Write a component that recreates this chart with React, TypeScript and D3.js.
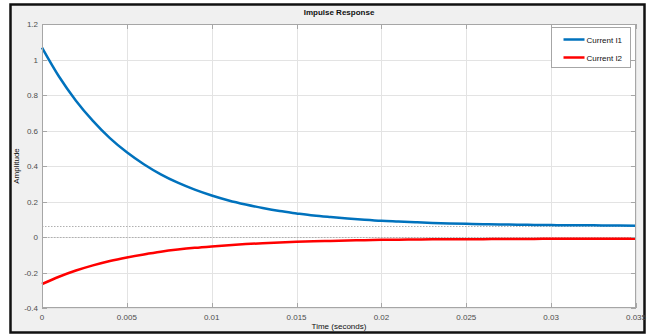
import { FC, useEffect, useRef } from "react";
import * as d3 from "d3";

// time samples (seconds), every 1 ms
const times: number[] = [
  0, 0.001, 0.002, 0.003, 0.004, 0.005, 0.006, 0.007, 0.008, 0.009,
  0.01, 0.011, 0.012, 0.013, 0.014, 0.015, 0.016, 0.017, 0.018, 0.019,
  0.02, 0.021, 0.022, 0.023, 0.024, 0.025, 0.026, 0.027, 0.028, 0.029,
  0.03, 0.031, 0.032, 0.033, 0.034, 0.035,
];

const currentI1: number[] = [
  1.067, 0.904, 0.768, 0.654, 0.557, 0.477, 0.41, 0.353, 0.306, 0.267,
  0.234, 0.206, 0.183, 0.163, 0.146, 0.133, 0.121, 0.112, 0.104, 0.097,
  0.091, 0.087, 0.083, 0.079, 0.076, 0.074, 0.072, 0.071, 0.069, 0.068,
  0.067, 0.066, 0.066, 0.065, 0.065, 0.064,
];

const currentI2: number[] = [
  -0.265, -0.224, -0.189, -0.16, -0.135, -0.115, -0.098, -0.083, -0.071, -0.061,
  -0.053, -0.046, -0.04, -0.035, -0.031, -0.027, -0.024, -0.022, -0.02, -0.018,
  -0.016, -0.015, -0.014, -0.013, -0.013, -0.012, -0.012, -0.011, -0.011, -0.011,
  -0.01, -0.01, -0.01, -0.01, -0.01, -0.01,
];

// steady-state levels (dotted lines)
const steadyStates: number[] = [0.062, 0];

const xTicks: number[] = [0, 0.005, 0.01, 0.015, 0.02, 0.025, 0.03, 0.035];
const yTicks: number[] = [-0.4, -0.2, 0, 0.2, 0.4, 0.6, 0.8, 1, 1.2];

const seriesNames: string[] = ["Current I1", "Current I2"];
const seriesColors: string[] = ["#0072bd", "#ff0000"];

const width = 653;
const height = 335;
const margin = { left: 42, top: 24, right: 17, bottom: 27 };
const font = "'Liberation Sans', Arial, sans-serif";

const ImpulseChart: FC = () => {
  const svgRef = useRef<SVGSVGElement | null>(null);

  useEffect(() => {
    if (!svgRef.current) return;
    const svg = d3.select(svgRef.current);
    svg.selectAll("*").remove();

    const x0 = margin.left;
    const x1 = width - margin.right;
    const y0 = margin.top;
    const y1 = height - margin.bottom;

    const xScale = d3.scaleLinear().domain([0, 0.035]).range([x0, x1]);
    const yScale = d3.scaleLinear().domain([-0.4, 1.2]).range([y1, y0]);

    // figure background + frame
    svg.append("rect")
      .attr("x", 10.5).attr("y", 4.5)
      .attr("width", 634).attr("height", 328)
      .attr("fill", "#f0f0f0")
      .attr("stroke", "#111").attr("stroke-width", 2.5);

    // plot area
    svg.append("rect")
      .attr("x", x0).attr("y", y0)
      .attr("width", x1 - x0).attr("height", y1 - y0)
      .attr("fill", "#fff");

    // grid
    const grid = svg.append("g").attr("stroke", "#e3e3e3").attr("stroke-width", 1);
    xTicks.forEach(t => {
      grid.append("line")
        .attr("x1", Math.round(xScale(t)) + 0.5).attr("x2", Math.round(xScale(t)) + 0.5)
        .attr("y1", y0).attr("y2", y1);
    });
    yTicks.forEach(t => {
      grid.append("line")
        .attr("x1", x0).attr("x2", x1)
        .attr("y1", Math.round(yScale(t)) + 0.5).attr("y2", Math.round(yScale(t)) + 0.5);
    });

    // steady-state dotted lines
    steadyStates.forEach(v => {
      svg.append("line")
        .attr("x1", x0).attr("x2", x1)
        .attr("y1", Math.round(yScale(v)) + 0.5).attr("y2", Math.round(yScale(v)) + 0.5)
        .attr("stroke", "#b0b0b0")
        .attr("stroke-width", 1)
        .attr("stroke-dasharray", "1.5,1.5");
    });

    // curves
    const line = d3.line<number>()
      .x((_, i) => xScale(times[i]))
      .y(d => yScale(d))
      .curve(d3.curveMonotoneX);

    [currentI1, currentI2].forEach((s, i) => {
      svg.append("path")
        .datum(s)
        .attr("fill", "none")
        .attr("stroke", seriesColors[i])
        .attr("stroke-width", 2.5)
        .attr("d", line);
    });

    // box + inward ticks
    svg.append("rect")
      .attr("x", x0 + 0.5).attr("y", y0 + 0.5)
      .attr("width", x1 - x0 - 1).attr("height", y1 - y0 - 1)
      .attr("fill", "none").attr("stroke", "#a6a6a6");

    const ticks = svg.append("g").attr("stroke", "#a6a6a6");
    xTicks.forEach(t => {
      const xx = Math.round(xScale(t)) + 0.5;
      ticks.append("line").attr("x1", xx).attr("x2", xx).attr("y1", y1).attr("y2", y1 - 5);
      ticks.append("line").attr("x1", xx).attr("x2", xx).attr("y1", y0).attr("y2", y0 + 5);
    });
    yTicks.forEach(t => {
      const yy = Math.round(yScale(t)) + 0.5;
      ticks.append("line").attr("x1", x0).attr("x2", x0 + 5).attr("y1", yy).attr("y2", yy);
      ticks.append("line").attr("x1", x1).attr("x2", x1 - 5).attr("y1", yy).attr("y2", yy);
    });

    // tick labels
    svg.append("g").selectAll("text")
      .data(xTicks).enter().append("text")
      .attr("x", d => xScale(d))
      .attr("y", y1 + 12)
      .attr("text-anchor", "middle")
      .attr("font-family", font).attr("font-size", 8).attr("fill", "#4d4d4d")
      .text(d => String(d));

    svg.append("g").selectAll("text")
      .data(yTicks).enter().append("text")
      .attr("x", x0 - 4)
      .attr("y", d => yScale(d) + 3)
      .attr("text-anchor", "end")
      .attr("font-family", font).attr("font-size", 8).attr("fill", "#4d4d4d")
      .text(d => String(d));

    // title and axis labels
    svg.append("text")
      .attr("x", (x0 + x1) / 2).attr("y", 15)
      .attr("text-anchor", "middle")
      .attr("font-family", font).attr("font-size", 8).attr("font-weight", "bold")
      .attr("fill", "#111")
      .text("Impulse Response");

    svg.append("text")
      .attr("x", (x0 + x1) / 2).attr("y", 329)
      .attr("text-anchor", "middle")
      .attr("font-family", font).attr("font-size", 8)
      .attr("fill", "#111")
      .text("Time (seconds)");

    svg.append("text")
      .attr("transform", `translate(19, ${(y0 + y1) / 2}) rotate(-90)`)
      .attr("text-anchor", "middle")
      .attr("font-family", font).attr("font-size", 8)
      .attr("fill", "#111")
      .text("Amplitude");

    // legend
    const lg = svg.append("g").attr("transform", "translate(551.5, 27.5)");
    lg.append("rect")
      .attr("width", 79).attr("height", 40)
      .attr("fill", "#fff").attr("stroke", "#a6a6a6");
    seriesNames.forEach((name, i) => {
      const yy = 12 + i * 18;
      lg.append("line")
        .attr("x1", 12).attr("x2", 33).attr("y1", yy).attr("y2", yy)
        .attr("stroke", seriesColors[i]).attr("stroke-width", 2.5);
      lg.append("text")
        .attr("x", 35).attr("y", yy + 3)
        .attr("font-family", font).attr("font-size", 8).attr("fill", "#111")
        .text(name);
    });
  }, []);

  return <svg ref={svgRef} width={width} height={height} style={{ display: "block" }} />;
};

export default function App() {
  return (
    <div style={{ position: "absolute", left: 0, top: 0, background: "#fff" }}>
      <ImpulseChart />
    </div>
  );
}
